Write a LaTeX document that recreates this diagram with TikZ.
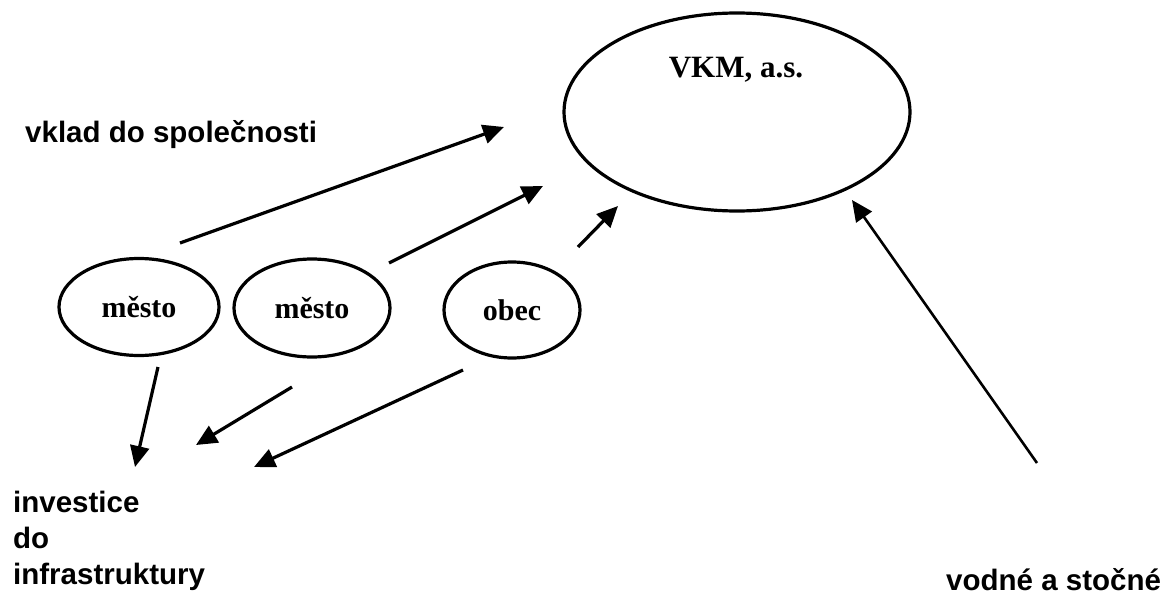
\documentclass[tikz,border=0pt]{standalone}
\usepackage{fontspec}
\setmainfont{Liberation Serif}
\newfontfamily\labelfont{Liberation Sans}
\usepackage{tikz}
\usetikzlibrary{arrows.meta,shapes.geometric}
\tikzset{
	obal/.style={ellipse, draw, line width=3.2pt, inner sep=0pt, font=\fontsize{30}{36}\selectfont\bfseries},
	popis/.style={font=\fontsize{29.5}{36}\selectfont\labelfont\bfseries, inner sep=0pt, anchor=base west, align=left},
	jmeno/.style={font=\fontsize{31}{36}\selectfont\bfseries, inner sep=0pt},
	tok/.style={line width=3.2pt, -{Triangle[length=21pt,width=19pt]}}
}

\begin{document}
\begin{tikzpicture}[x=1pt, y=-1pt]
			%%%%% START %%%%%
			\useasboundingbox (0, 0) rectangle (1165, 594);
			
			\node[obal, minimum width=346pt, minimum height=198pt] (vkm) at (737, 112) {};
			\node[jmeno] (vkmtext) at (736, 70) {VKM, a.s.};
			
			\node[obal, minimum width=160pt, minimum height=97pt] (mesto1) at (139, 307) {město};
			\node[obal, minimum width=156pt, minimum height=98pt] (mesto2) at (312, 308) {město};
			\node[obal, minimum width=136pt, minimum height=96pt] (obec) at (512, 310) {obec};
			
			\node[popis] (vklad) at (25, 142) {vklad do společnosti};
			\node[popis, anchor=north west] (investice) at (13, 491) {investice\\do\\infrastruktury};
			\node[popis] (vodne) at (946, 590) {vodné a stočné};
			
			% vklady
			\coordinate (v1a) at (180, 243);
			\coordinate (v1b) at (504, 127);
			\coordinate (v2a) at (389, 263);
			\coordinate (v2b) at (543, 186);
			\coordinate (v3a) at (578, 247);
			\coordinate (v3b) at (618, 206);
			\draw[tok] (v1a) -- (v1b);
			\draw[tok] (v2a) -- (v2b);
			\draw[tok] (v3a) -- (v3b);
			
			% investice
			\coordinate (i1a) at (158, 367);
			\coordinate (i1b) at (135, 467);
			\coordinate (i2a) at (292, 387);
			\coordinate (i2b) at (196, 445);
			\coordinate (i3a) at (463, 370);
			\coordinate (i3b) at (254, 467);
			\draw[tok] (i1a) -- (i1b);
			\draw[tok] (i2a) -- (i2b);
			\draw[tok] (i3a) -- (i3b);
			
			% vodne a stocne
			\coordinate (ra) at (1037, 463);
			\coordinate (rb) at (852, 200);
			\draw[tok, line width=2.6pt] (ra) -- (rb);
			%%%%% END %%%%%
\end{tikzpicture}
\end{document}
